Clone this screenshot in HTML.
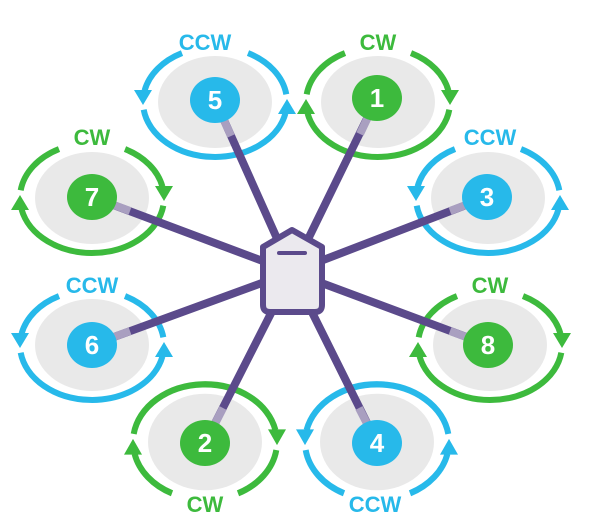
<!DOCTYPE html>
<html><head><style>html,body{margin:0;padding:0;background:#fff;width:597px;height:525px;overflow:hidden}</style></head>
<body>
<svg width="597" height="525" viewBox="0 0 597 525" xmlns="http://www.w3.org/2000/svg" font-family="Liberation Sans, sans-serif">
<defs>
<g id="ringG">
  <ellipse rx="57" ry="46" fill="#e9e9e9"/>
  <g fill="none" stroke="#3dba3d" stroke-width="6">
    <path d="M33,-48.9 A72,55 0 0 1 70.4,-11.4"/>
    <path d="M71.3,7.7 A72,55 0 0 1 -70.4,11.4"/>
    <path d="M-71.3,-7.7 A72,55 0 0 1 -33,-48.9"/>
  </g>
  <polygon points="63,-12 81,-12 72,3" fill="#3dba3d"/>
  <polygon points="-63,12 -81,12 -72,-3" fill="#3dba3d"/>
</g>
<g id="ringB">
  <ellipse rx="57" ry="46" fill="#e9e9e9"/>
  <g fill="none" stroke="#27b9ea" stroke-width="6">
    <path d="M33,-48.9 A72,55 0 0 1 70.4,-11.4"/>
    <path d="M71.3,7.7 A72,55 0 0 1 -70.4,11.4"/>
    <path d="M-71.3,-7.7 A72,55 0 0 1 -33,-48.9"/>
  </g>
  <polygon points="63,-12 81,-12 72,3" fill="#27b9ea"/>
  <polygon points="-63,12 -81,12 -72,-3" fill="#27b9ea"/>
</g>
</defs>

<use href="#ringB" transform="translate(215,102) scale(-1,1)"/>
<use href="#ringG" transform="translate(378,102)"/>
<use href="#ringB" transform="translate(488,198) scale(-1,1)"/>
<use href="#ringG" transform="translate(92,198)"/>
<use href="#ringB" transform="translate(92,345) scale(-1,1)"/>
<use href="#ringG" transform="translate(490,345)"/>
<use href="#ringG" transform="translate(205,442) scale(-1,-1.05)"/>
<use href="#ringB" transform="translate(377,442) scale(1,-1.05)"/>

<g font-size="22" font-weight="bold" text-anchor="middle">
<text x="205" y="50" fill="#27b9ea">CCW</text>
<text x="378" y="50" fill="#3dba3d">CW</text>
<text x="490" y="145" fill="#27b9ea">CCW</text>
<text x="92" y="145" fill="#3dba3d">CW</text>
<text x="92" y="293" fill="#27b9ea">CCW</text>
<text x="490" y="293" fill="#3dba3d">CW</text>
<text x="205" y="512" fill="#3dba3d">CW</text>
<text x="375" y="512" fill="#27b9ea">CCW</text>
</g>

<g stroke="#5b4a8b" stroke-width="8" stroke-linecap="round">
<line x1="292" y1="272" x2="215" y2="100"/>
<line x1="292" y1="272" x2="377" y2="98"/>
<line x1="292" y1="272" x2="487" y2="197"/>
<line x1="292" y1="272" x2="92" y2="197"/>
<line x1="292" y1="272" x2="92" y2="345"/>
<line x1="292" y1="272" x2="488" y2="345"/>
<line x1="292" y1="272" x2="205" y2="443"/>
<line x1="292" y1="272" x2="377" y2="443"/>
</g>
<g stroke="#a99fc0" stroke-width="8">
<line x1="231" y1="136" x2="215" y2="100"/>
<line x1="360" y1="134" x2="377" y2="98"/>
<line x1="450" y1="211" x2="487" y2="197"/>
<line x1="130" y1="211" x2="92" y2="197"/>
<line x1="130" y1="331" x2="92" y2="345"/>
<line x1="450" y1="331" x2="488" y2="345"/>
<line x1="223" y1="408" x2="205" y2="443"/>
<line x1="359" y1="408" x2="377" y2="443"/>
</g>

<g font-size="26" font-weight="bold" fill="#fff" text-anchor="middle">
<ellipse cx="215" cy="100" rx="25" ry="23" fill="#27b9ea"/><text x="215" y="109">5</text>
<ellipse cx="377" cy="98" rx="25" ry="23" fill="#3dba3d"/><text x="377" y="107">1</text>
<ellipse cx="487" cy="197" rx="25" ry="23" fill="#27b9ea"/><text x="487" y="206">3</text>
<ellipse cx="92" cy="197" rx="25" ry="23" fill="#3dba3d"/><text x="92" y="206">7</text>
<ellipse cx="92" cy="345" rx="25" ry="23" fill="#27b9ea"/><text x="92" y="354">6</text>
<ellipse cx="488" cy="345" rx="25" ry="23" fill="#3dba3d"/><text x="488" y="354">8</text>
<ellipse cx="205" cy="443" rx="25" ry="23" fill="#3dba3d"/><text x="205" y="452">2</text>
<ellipse cx="377" cy="443" rx="25" ry="23" fill="#27b9ea"/><text x="377" y="452">4</text>
</g>

<path d="M292,230 L322,247 L322,305 Q322,312 315,312 L270,312 Q263,312 263,305 L263,247 Z" fill="#ebe9ee" stroke="#5b4a8b" stroke-width="6" stroke-linejoin="round"/>
<line x1="279" y1="253" x2="305" y2="253" stroke="#5b4a8b" stroke-width="4" stroke-linecap="round"/>
</svg>
</body></html>
